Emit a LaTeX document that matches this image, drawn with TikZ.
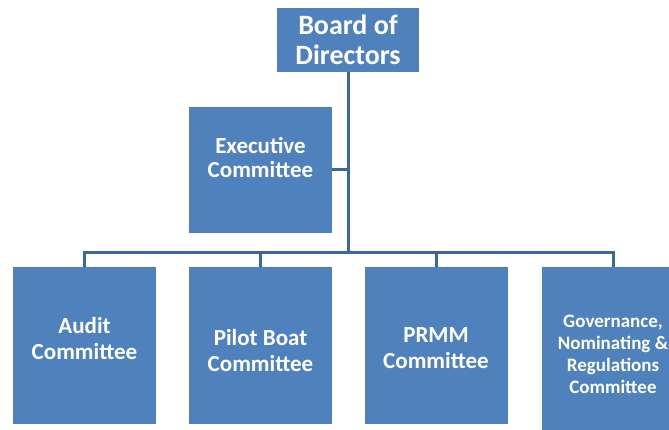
\documentclass[tikz,border=0pt]{standalone}
\usepackage{fontspec}
\setmainfont{Carlito}
\usetikzlibrary{positioning}
\definecolor{boxblue}{HTML}{4F81BD}
\definecolor{lineblue}{HTML}{3E6797}
\tikzset{unit/.style={rectangle,fill=boxblue,inner sep=0pt,minimum width=143pt}}
\tikzset{tag/.style={text=white,align=center,font=\bfseries\fontsize{23}{26}\selectfont}}
\tikzset{link/.style={draw=lineblue,line width=3pt}}

\begin{document}
\begin{tikzpicture}[x=1pt,y=-1pt]
  \useasboundingbox (0,0) rectangle (669,430);
  \clip (0,0) rectangle (669,430);
  \node[unit,minimum width=142pt,minimum height=64pt,label={[tag,font=\bfseries\fontsize{28}{30}\selectfont]center:Board of\\Directors}] (board) at (348,40) {};
  \node[unit,minimum height=126pt,label={[tag,font=\bfseries\fontsize{23}{24}\selectfont,yshift=13pt]center:Executive\\Committee}] (exec) at (260.5,170) {};
  \coordinate (hub) at (348,253);
  % committees under the board
  \node[unit,minimum height=157pt,label={[tag,yshift=7pt]center:Audit\\Committee}] (audit) at (84.5,345.5) {};
  \node[unit,minimum height=157pt,label={[tag,yshift=-5pt]center:Pilot Boat\\Committee}] (pilot) at (260.5,345.5) {};
  \node[unit,minimum height=157pt,label={[tag,yshift=-3pt]center:PRMM\\Committee}] (prmm) at (436,345.5) {};
  \node[unit,minimum height=173pt,label={[tag,font=\bfseries\fontsize{19}{22}\selectfont,yshift=-1pt]center:Governance,\\Nominating \&\\Regulations\\Committee}] (gov) at (613,353.5) {};
  \draw[link] (board) -- (hub);
  \draw[link] (exec) -- (exec -| board);
  \draw[link] (audit.north) |- (hub) -| (gov.north);
  \draw[link] (pilot.north) -- (pilot.north |- hub);
  \draw[link] (prmm.north) -- (prmm.north |- hub);
\end{tikzpicture}
\end{document}
